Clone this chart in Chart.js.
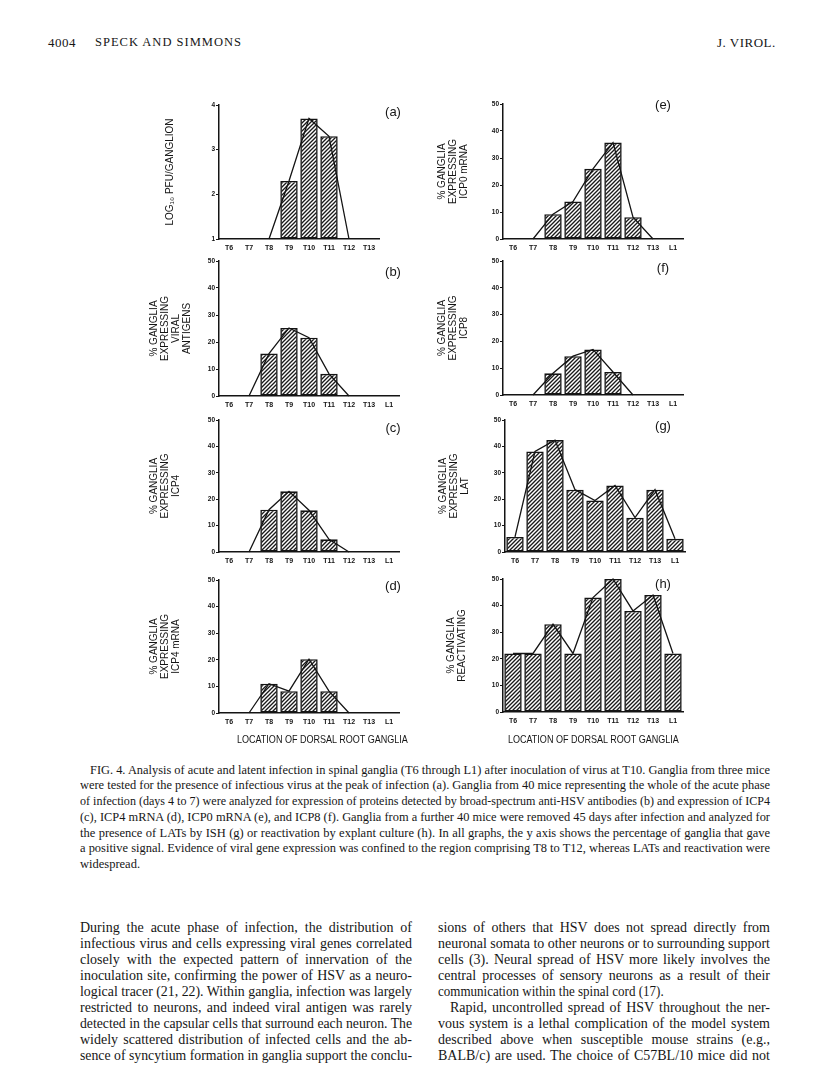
<!DOCTYPE html>
<html>
<head>
<meta charset="utf-8">
<script src="https://cdn.jsdelivr.net/npm/chart.js@4.4.1/dist/chart.umd.min.js"></script>
<style>
    body { margin: 0; background: #fff; width: 816px; height: 1076px; position: relative; overflow: hidden; color: #161616; }
    canvas { position: absolute; }
    .tag { position: absolute; font: 13px 'Liberation Sans', Arial, sans-serif; transform: translate(-50%, -50%); }
    .xtitle { position: absolute; font: 10.5px 'Liberation Sans', Arial, sans-serif; white-space: nowrap; transform-origin: 50% 50%; }
    .ln { position: absolute; white-space: nowrap; display: inline-block; transform-origin: 0 50%; font-family: 'Liberation Serif', 'Times New Roman', serif; }
</style>
</head>
<body>
<script>
// ============================================
// FIG. 4 - dorsal root ganglia (T6..L1), 8 small histograms
// ============================================

const segments9 = ['T6', 'T7', 'T8', 'T9', 'T10', 'T11', 'T12', 'T13', 'L1'];
const segments8 = ['T6', 'T7', 'T8', 'T9', 'T10', 'T11', 'T12', 'T13'];   // (a) has no L1

const pfuLog        = [null, null, null, 2.3, 3.7, 3.3, null, null];             // (a)
const viralAntigens = [null, null, 15.7, 25.2, 21.6, 8.2, null, null, null];     // (b)
const icp4          = [null, null, 16, 23, 15.8, 4.8, null, null, null];         // (c)
const icp4mRNA      = [null, null, 11, 8.2, 20.2, 8.2, null, null, null];        // (d)
const icp0mRNA      = [null, null, 9.2, 13.9, 26, 35.7, 8.1, null, null];        // (e)
const icp8          = [null, null, 8.1, 14.5, 17, 8.6, null, null, null];        // (f)
const lat           = [5.7, 38.1, 42.4, 23.6, 19.5, 25.2, 13, 23.6, 5];          // (g)
const reactivating  = [22, 22, 33, 22, 43, 50, 38, 44, 22];                      // (h)

const pctTicks = [0, 10, 20, 30, 40, 50];
const logTicks = [1, 2, 3, 4];

// layout: column left edge, y-axis x, plot top/bottom/right (page px)
const panels = [
    { tag: '(a)', labels: segments8, values: pfuLog, min: 1, max: 4, ticks: logTicks,
      title: ['LOG\u2081\u2080 PFU/GANGLION'], col: 130, axis: 219, right: 379, top: 105, bottom: 239, tpad: 35, tagX: 393, tagY: 111 },
    { tag: '(b)', labels: segments9, values: viralAntigens, min: 0, max: 50, ticks: pctTicks,
      title: ['% GANGLIA', 'EXPRESSING', 'VIRAL', 'ANTIGENS'], col: 130, axis: 219, right: 399, top: 261, bottom: 396, tpad: 19, tagX: 393, tagY: 271 },
    { tag: '(c)', labels: segments9, values: icp4, min: 0, max: 50, ticks: pctTicks,
      title: ['% GANGLIA', 'EXPRESSING', 'ICP4'], col: 130, axis: 219, right: 399, top: 420, bottom: 552, tpad: 19, tagX: 393, tagY: 427 },
    { tag: '(d)', labels: segments9, values: icp4mRNA, min: 0, max: 50, ticks: pctTicks,
      title: ['% GANGLIA', 'EXPRESSING', 'ICP4 mRNA'], col: 130, axis: 219, right: 399, top: 580, bottom: 713, tpad: 19, tagX: 393, tagY: 585 },
    { tag: '(e)', labels: segments9, values: icp0mRNA, min: 0, max: 50, ticks: pctTicks,
      title: ['% GANGLIA', 'EXPRESSING', 'ICP0 mRNA'], col: 410, axis: 503, right: 683, top: 104, bottom: 239, tpad: 27, tagX: 663, tagY: 104 },
    { tag: '(f)', labels: segments9, values: icp8, min: 0, max: 50, ticks: pctTicks,
      title: ['% GANGLIA', 'EXPRESSING', 'ICP8'], col: 410, axis: 503, right: 683, top: 261, bottom: 395, tpad: 27, tagX: 663, tagY: 267 },
    { tag: '(g)', labels: segments9, values: lat, min: 0, max: 50, ticks: pctTicks,
      title: ['% GANGLIA', 'EXPRESSING', 'LAT'], col: 410, axis: 505, right: 685, top: 420, bottom: 552, tpad: 28, tagX: 663, tagY: 425 },
    { tag: '(h)', labels: segments9, values: reactivating, min: 0, max: 50, ticks: pctTicks,
      title: ['% GANGLIA', 'REACTIVATING'], col: 410, axis: 503, right: 683, top: 579, bottom: 712, tpad: 36, tagX: 663, tagY: 583 }
];

const INK = '#141414';
const CANVAS_W = 280;
const PAD_TOP = 10;
const X_H = 20;

// diagonal hatching for the bars
function hatch(ctx) {
    const c = document.createElement('canvas');
    c.width = c.height = 4;
    const g = c.getContext('2d');
    g.fillStyle = '#fff';
    g.fillRect(0, 0, 4, 4);
    g.strokeStyle = '#1a1a1a';
    g.lineWidth = 1.35;
    g.beginPath();
    g.moveTo(0, 4); g.lineTo(4, 0);
    g.moveTo(-1, 1); g.lineTo(1, -1);
    g.moveTo(3, 5); g.lineTo(5, 3);
    g.stroke();
    return ctx.createPattern(c, 'repeat');
}

// frequency polygon: bar tops plus a base point on each side
function polygon(vals, base) {
    return vals.map((v, i) => v != null ? v
        : (vals[i - 1] != null || vals[i + 1] != null) ? base : null);
}

const tickFont = { family: "'Liberation Sans', Arial, sans-serif", size: 7, weight: 'bold' };

panels.forEach(p => {
    const canvas = document.createElement('canvas');
    const h = (p.bottom - p.top) + PAD_TOP + X_H;
    canvas.width = CANVAS_W;
    canvas.height = h;
    canvas.style.left = p.col + 'px';
    canvas.style.top = (p.top - PAD_TOP) + 'px';
    document.body.appendChild(canvas);
    const ctx = canvas.getContext('2d');

    new Chart(ctx, {
        type: 'bar',
        data: {
            labels: p.labels,
            datasets: [
                {
                    type: 'line',
                    data: polygon(p.values, p.min),
                    borderColor: INK,
                    borderWidth: 1.3,
                    pointRadius: 0,
                    tension: 0,
                    order: 0,
                    clip: false
                },
                {
                    data: p.values,
                    base: p.min,
                    backgroundColor: hatch(ctx),
                    borderColor: INK,
                    borderWidth: 1.6,
                    borderSkipped: false,
                    barPercentage: 0.87,
                    categoryPercentage: 1,
                    order: 1
                }
            ]
        },
        options: {
            responsive: false,
            animation: false,
            devicePixelRatio: 1,
            layout: { padding: { top: PAD_TOP, right: p.col + CANVAS_W - p.right, bottom: 0, left: 0 } },
            plugins: { legend: { display: false }, tooltip: { enabled: false } },
            scales: {
                x: {
                    afterFit: s => { s.height = X_H; },
                    border: { display: true, color: INK, width: 1.5 },
                    grid: { display: true, drawOnChartArea: false, drawTicks: false },
                    ticks: { color: INK, font: tickFont, padding: 5, maxRotation: 0, autoSkip: false }
                },
                y: {
                    min: p.min,
                    max: p.max,
                    afterFit: s => { s.width = p.axis - p.col; },
                    afterBuildTicks: s => { s.ticks = p.ticks.map(v => ({ value: v })); },
                    border: { display: true, color: INK, width: 1.5 },
                    grid: { drawOnChartArea: false, drawTicks: true, tickLength: 3, color: INK, lineWidth: 1 },
                    ticks: { color: INK, font: { ...tickFont, size: 6.5 }, padding: 1 },
                    title: {
                        display: true,
                        text: p.title,
                        color: INK,
                        font: { family: "'Liberation Sans', Arial, sans-serif", size: 10, lineHeight: 1.1 },
                        padding: { top: p.tpad, bottom: 0 }
                    }
                }
            }
        }
    });

    const t = document.createElement('div');
    t.className = 'tag';
    t.textContent = p.tag;
    t.style.left = p.tagX + 'px';
    t.style.top = p.tagY + 'px';
    document.body.appendChild(t);
});

// x-axis titles under (d) and (h)
[[322, 739], [593, 739]].forEach(([cx, cy]) => {
    const d = document.createElement('div');
    d.className = 'xtitle';
    d.textContent = 'LOCATION OF DORSAL ROOT GANGLIA';
    document.body.appendChild(d);
    const w = d.getBoundingClientRect().width;
    d.style.left = (cx - w / 2) + 'px';
    d.style.top = (cy - 6) + 'px';
    d.style.transform = 'scaleX(0.86)';
});

// ---- page text ----
function line(text, left, cy, width, size, justify) {
    const el = document.createElement('div');
    el.className = 'ln';
    el.style.fontSize = size + 'px';
    el.style.lineHeight = '1';
    el.textContent = text;
    document.body.appendChild(el);
    el.style.left = left + 'px';
    el.style.top = (cy - size / 2) + 'px';
    const w = el.getBoundingClientRect().width;
    const spaces = (text.match(/ /g) || []).length;
    if (width && w > width) {
        el.style.transform = `scaleX(${width / w})`;
    } else if (width && justify && spaces) {
        el.style.wordSpacing = ((width - w) / spaces) + 'px';
    }
    return el;
}

// running head
line('4004', 48, 42, 0, 13).style.letterSpacing = '0.5px';
line('SPECK AND SIMMONS', 95, 42, 0, 12.5).style.letterSpacing = '1px';
line('J. VIROL.', 717, 42, 0, 13).style.letterSpacing = '0.5px';

const caption = [
    'FIG. 4.  Analysis of acute and latent infection in spinal ganglia (T6 through L1) after inoculation of virus at T10. Ganglia from three mice',
    'were tested for the presence of infectious virus at the peak of infection (a). Ganglia from 40 mice representing the whole of the acute phase',
    'of infection (days 4 to 7) were analyzed for expression of proteins detected by broad-spectrum anti-HSV antibodies (b) and expression of ICP4',
    '(c), ICP4 mRNA (d), ICP0 mRNA (e), and ICP8 (f). Ganglia from a further 40 mice were removed 45 days after infection and analyzed for',
    'the presence of LATs by ISH (g) or reactivation by explant culture (h). In all graphs, the y axis shows the percentage of ganglia that gave',
    'a positive signal. Evidence of viral gene expression was confined to the region comprising T8 to T12, whereas LATs and reactivation were',
    'widespread.'
];
caption.forEach((t, i) => {
    const first = i === 0;
    const last = i === caption.length - 1;
    line(t, first ? 90 : 80, 770 + i * 15.7, last ? 0 : (first ? 680 : 690), 12.5, !last);
});

const bodyLeft = [
    'During the acute phase of infection, the distribution of',
    'infectious virus and cells expressing viral genes correlated',
    'closely with the expected pattern of innervation of the',
    'inoculation site, confirming the power of HSV as a neuro-',
    'logical tracer (21, 22). Within ganglia, infection was largely',
    'restricted to neurons, and indeed viral antigen was rarely',
    'detected in the capsular cells that surround each neuron. The',
    'widely scattered distribution of infected cells and the ab-',
    'sence of syncytium formation in ganglia support the conclu-'
];
const bodyRight = [
    'sions of others that HSV does not spread directly from',
    'neuronal somata to other neurons or to surrounding support',
    'cells (3). Neural spread of HSV more likely involves the',
    'central processes of sensory neurons as a result of their',
    'communication within the spinal cord (17).',
    'Rapid, uncontrolled spread of HSV throughout the ner-',
    'vous system is a lethal complication of the model system',
    'described above when susceptible mouse strains (e.g.,',
    'BALB/c) are used. The choice of C57BL/10 mice did not'
];
bodyLeft.forEach((t, i) => line(t, 80, 928 + i * 16, 332, 14, true));
bodyRight.forEach((t, i) => {
    const indent = i === 5 ? 12 : 0;
    if (i === 4) line(t, 438, 928 + i * 16, 0, 14).style.transform = 'scaleX(0.93)';
    else line(t, 438 + indent, 928 + i * 16, 332 - indent, 14, true);
});
</script>
</body>
</html>
